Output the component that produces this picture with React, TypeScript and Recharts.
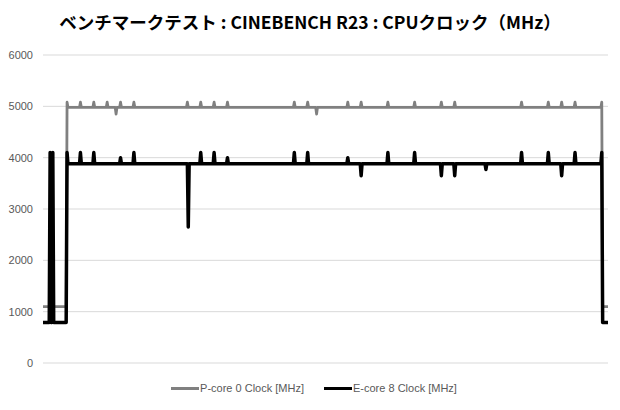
import { LineChart, Line, XAxis, YAxis, CartesianGrid } from "recharts";

// time in seconds, clock in MHz
const pTime = [
  0, 26, 27, 28, 41, 42, 43, 56, 57, 58, 71, 72, 73, 81, 82, 83, 86, 87, 88,
  101, 102, 103, 161, 162, 163, 176, 177, 178, 191, 192, 193, 206, 207, 208,
  281, 282, 283, 296, 297, 298, 306, 307, 308, 341, 342, 343, 356, 357, 358,
  386, 387, 388, 416, 417, 418, 446, 447, 448, 461, 462, 463, 536, 537, 538,
  566, 567, 568, 581, 582, 583, 596, 597, 598, 626, 627, 628, 634,
];
const pClock = [
  1100, 1100, 5080, 4980, 4980, 5080, 4980, 4980, 5080, 4980, 4980, 5080, 4980, 4980, 4850, 4980, 4980, 5080, 4980,
  4980, 5080, 4980, 4980, 5080, 4980, 4980, 5080, 4980, 4980, 5080, 4980, 4980, 5080, 4980,
  4980, 5080, 4980, 4980, 5080, 4980, 4980, 4850, 4980, 4980, 5080, 4980, 4980, 5080, 4980,
  4980, 5080, 4980, 4980, 5080, 4980, 4980, 5080, 4980, 4980, 5080, 4980, 4980, 5080, 4980,
  4980, 5080, 4980, 4980, 5080, 4980, 4980, 5080, 4980, 4980, 5080, 1100, 1100,
];

const eTime = [
  0, 7, 8, 9, 10, 11, 12, 26, 27, 28, 41, 42, 43, 56, 57, 58, 86, 87, 88,
  101, 102, 103, 162, 163, 164, 176, 177, 178, 191, 192, 193, 206, 207, 208,
  281, 282, 283, 296, 297, 298, 341, 342, 343, 356, 357, 358, 386, 387, 388,
  416, 417, 418, 446, 447, 448, 461, 462, 463, 496, 497, 498, 536, 537, 538,
  566, 567, 568, 581, 582, 583, 596, 597, 598, 626, 627, 628, 634,
];
const eClock = [
  790, 790, 4100, 790, 790, 4100, 790, 790, 4100, 3880, 3880, 4100, 3880, 3880, 4100, 3880, 3880, 4000, 3880,
  3880, 4100, 3880, 3880, 2650, 3880, 3880, 4100, 3880, 3880, 4100, 3880, 3880, 4000, 3880,
  3880, 4100, 3880, 3880, 4100, 3880, 3880, 4000, 3880, 3880, 3650, 3880, 3880, 4100, 3880,
  3880, 4100, 3880, 3880, 3650, 3880, 3880, 3650, 3880, 3880, 3770, 3880, 3880, 4100, 3880,
  3880, 4100, 3880, 3880, 3650, 3880, 3880, 4100, 3880, 3880, 4100, 790, 790,
];

const yTicks = [0, 1000, 2000, 3000, 4000, 5000, 6000];

const pData = pTime.map((t, i) => ({ t, v: pClock[i] }));
const eData = eTime.map((t, i) => ({ t, v: eClock[i] }));

const P_COLOR = "#808080";
const E_COLOR = "#000000";
const textColor = "#595959";
const font = "'Liberation Sans', Arial, sans-serif";

function LegendItem({ color, label }: { color: string; label: string }) {
  return (
    <div style={{ display: "flex", alignItems: "center" }}>
      <div style={{ width: 28, height: 3, background: color }} />
      <span style={{ marginLeft: 1 }}>{label}</span>
    </div>
  );
}

export default function App() {
  return (
    <div
      style={{
        position: "absolute",
        left: 0,
        top: 0,
        width: 620,
        height: 410,
        background: "#fff",
        fontFamily: font,
      }}
    >
      <div
        style={{
          position: "absolute",
          top: 9,
          left: 0,
          width: 620,
          textAlign: "center",
          fontFamily: "'Noto Sans CJK JP', sans-serif",
          fontWeight: 700,
          fontSize: 17.5,
          color: "#000",
          lineHeight: "26px",
        }}
      >
        ベンチマークテスト : CINEBENCH R23 : CPUクロック（MHz）
      </div>
      <LineChart
        width={620}
        height={410}
        margin={{ top: 55, right: 12, bottom: 47, left: 8 }}
      >
        <CartesianGrid vertical={false} stroke="#d9d9d9" strokeWidth={1} />
        <XAxis type="number" dataKey="t" domain={[0, 634]} hide allowDuplicatedCategory={false} />
        <YAxis
          type="number"
          domain={[0, 6000]}
          ticks={yTicks}
          width={35}
          axisLine={false}
          tickLine={false}
          tickSize={0}
          tickMargin={10}
          tick={{ fontSize: 11, fill: textColor, fontFamily: font }}
        />
        <Line
          data={pData}
          dataKey="v"
          type="linear"
          stroke={P_COLOR}
          strokeWidth={2.8}
          strokeLinejoin="round"
          dot={false}
          isAnimationActive={false}
        />
        <Line
          data={eData}
          dataKey="v"
          type="linear"
          stroke={E_COLOR}
          strokeWidth={3.5}
          strokeLinejoin="round"
          dot={false}
          isAnimationActive={false}
        />
      </LineChart>
      <div
        style={{
          position: "absolute",
          top: 380,
          left: 4,
          width: 620,
          display: "flex",
          justifyContent: "center",
          gap: 20,
          fontSize: 11,
          color: textColor,
          lineHeight: "16px",
        }}
      >
        <LegendItem color={P_COLOR} label="P-core 0 Clock [MHz]" />
        <LegendItem color={E_COLOR} label="E-core 8 Clock [MHz]" />
      </div>
    </div>
  );
}
